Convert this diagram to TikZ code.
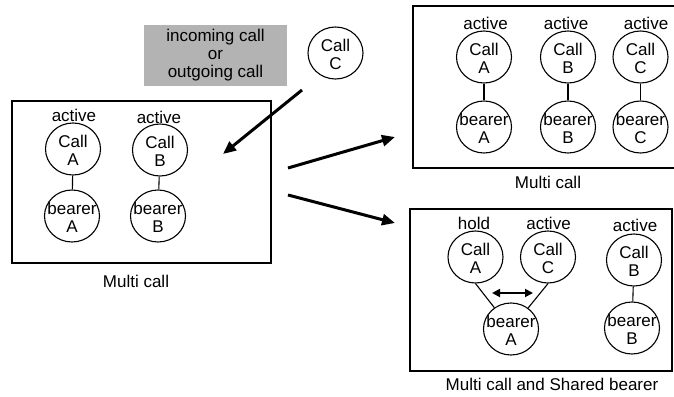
\documentclass[tikz,border=0pt]{standalone}
\usepackage{fontspec}
\setmainfont{Liberation Sans}
\usetikzlibrary{arrows.meta,shapes.geometric}
\definecolor{panelgray}{RGB}{179,179,179}
\begin{document}
\begin{tikzpicture}[x=1pt,y=-1pt,
  every node/.style={font=\fontsize{17}{18}\selectfont},
  ent/.style={draw,ellipse,minimum width=55pt,minimum height=52pt,
              inner sep=0pt,line width=1.1pt,
              label={[align=center,inner sep=0pt,yshift=-1pt]center:#1}},
  tag/.style={inner sep=0pt},
  frame/.style={draw,line width=1.3pt,inner sep=0pt},
  link/.style={line width=1.1pt},
  flow/.style={line width=3pt,-{Triangle[length=13pt,width=11pt]}},
  swap/.style={line width=1.8pt,
               {Triangle[length=8pt,width=8pt]}-{Triangle[length=8pt,width=8pt]}}
]
\useasboundingbox (0,0) rectangle (674,396);

% trigger: new call arriving
\node[fill=panelgray,minimum width=143pt,minimum height=61pt,align=center,inner sep=0pt]
  (trigger) at (215.5,55.5) {incoming call\\or\\outgoing call};
\node[ent={Call\\C}] (newC) at (335.5,53) {};

% initial state: two active calls with their own bearers
\node[frame,minimum width=259pt,minimum height=162pt] (left) at (141.5,182) {};
\node[tag] (leftlbl) at (136,281) {Multi call};
\node[tag] (lsA) at (74,115) {active};
\node[tag] (lsB) at (159,117) {active};
\node[ent={Call\\A}] (lA) at (73,149) {};
\node[ent={bearer\\A}] (lbA) at (72,216) {};
\node[ent={Call\\B}] (lB) at (160,150) {};
\node[ent={bearer\\B}] (lbB) at (158,216) {};
\draw[link] (lA) -- (lbA);
\draw[link] (lB) -- (lbB);

% transitions
\coordinate (in0) at (302,90);
\coordinate (in1) at (223,154);
\coordinate (up0) at (288,168);
\coordinate (up1) at (395,137);
\coordinate (dn0) at (288,195);
\coordinate (dn1) at (395,223);
\draw[flow] (in0) -- (in1);
\draw[flow] (up0) -- (up1);
\draw[flow] (dn0) -- (dn1);

% result 1: three calls, three bearers
\coordinate (tr0) at (674,6);
\coordinate (tr1) at (413,6);
\coordinate (tr2) at (413,168);
\coordinate (tr3) at (674,168);
\draw[line width=1.3pt] (tr0) -- (tr1) -- (tr2) -- (tr3);
\node[tag] (trlbl) at (548,182) {Multi call};
\node[tag] (tsA) at (485.5,23) {active};
\node[tag] (tsB) at (566,23) {active};
\node[tag] (tsC) at (646,23) {active};
\node[ent={Call\\A}] (tA) at (484,57) {};
\node[ent={bearer\\A}] (tbA) at (484,127) {};
\node[ent={Call\\B}] (tB) at (568,57) {};
\node[ent={bearer\\B}] (tbB) at (568,127) {};
\node[ent={Call\\C}] (tC) at (640.5,57) {};
\node[ent={bearer\\C}] (tbC) at (640.5,127) {};
\draw[link] (tA) -- (tbA);
\draw[link] (tB) -- (tbB);
\draw[link] (tC) -- (tbC);

% result 2: calls A and C share one bearer
\node[frame,minimum width=262pt,minimum height=162pt] (br) at (541,290) {};
\node[tag] (brlbl) at (552,384) {Multi call and Shared bearer};
\node[tag] (bsA) at (474,223) {hold};
\node[tag] (bsC) at (548.5,223) {active};
\node[tag] (bsB) at (635,225) {active};
\node[ent={Call\\A}] (bA) at (475.5,257) {};
\node[ent={Call\\C}] (bC) at (548,257) {};
\node[ent={bearer\\A}] (bbA) at (511,329) {};
\node[ent={Call\\B}] (bB) at (634,260) {};
\node[ent={bearer\\B}] (bbB) at (632,328) {};
\draw[link] (bA.south) -- (bbA);
\draw[link] (bC.south) -- (bbA);
\draw[link] (bB) -- (bbB);
\coordinate (sw0) at (492,293);
\coordinate (sw1) at (533,293);
\draw[swap] (sw0) -- (sw1);
\end{tikzpicture}
\end{document}
